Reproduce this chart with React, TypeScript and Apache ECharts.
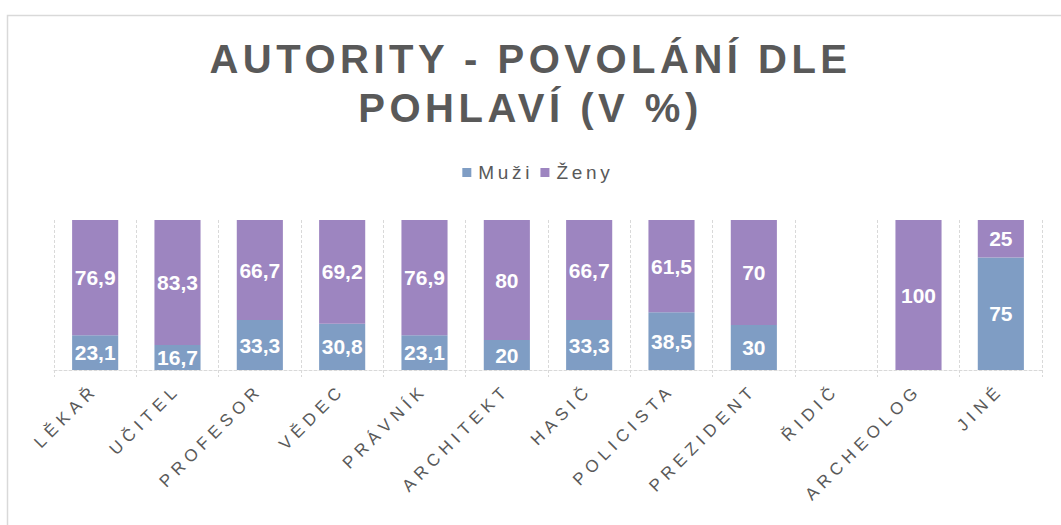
import React, { useEffect, useRef } from "react";
import * as echarts from "echarts";

const categories = [
  "LĚKAŘ",
  "UČITEL",
  "PROFESOR",
  "VĚDEC",
  "PRÁVNÍK",
  "ARCHITEKT",
  "HASIČ",
  "POLICISTA",
  "PREZIDENT",
  "ŘIDIČ",
  "ARCHEOLOG",
  "JINÉ",
];
const muzi = [23.1, 16.7, 33.3, 30.8, 23.1, 20, 33.3, 38.5, 30, null, null, 75];
const zeny = [76.9, 83.3, 66.7, 69.2, 76.9, 80, 66.7, 61.5, 70, null, 100, 25];
const seriesNames = ["Muži", "Ženy"];
const titleText = "AUTORITY - POVOLÁNÍ DLE\nPOHLAVÍ (V %)";

const GRAY = "#595959";
const LINE = "#D9D9D9";
const FONT = "'Liberation Sans', Arial, sans-serif";

export default function App() {
  const ref = useRef<HTMLDivElement>(null);

  useEffect(() => {
    document.body.style.margin = "0";
    const el = ref.current!;
    const chart = echarts.init(el, null, { renderer: "svg" });

    const label = {
      show: true,
      position: "inside",
      color: "#fff",
      fontWeight: "bold",
      fontSize: 21,
      fontFamily: FONT,
      formatter: (p: any) =>
        p.value == null ? "" : String(p.value).replace(".", ","),
    };

    chart.setOption({
      animation: false,
      backgroundColor: "#fff",
      graphic: [
        {
          type: "rect",
          shape: { x: 7.5, y: 15.5, width: 1200, height: 700 },
          style: { fill: "none", stroke: LINE, lineWidth: 1.5 },
          silent: true,
        },
      ],
      title: {
        text: titleText,
        left: "center",
        top: 29,
        textStyle: {
          color: GRAY,
          fontSize: 40,
          lineHeight: 49,
          fontWeight: "bold",
          fontFamily: FONT,
        },
      },
      legend: {
        data: seriesNames,
        top: 158,
        left: "center",
        itemWidth: 9,
        itemHeight: 9,
        itemGap: 22,
        icon: "rect",
        textStyle: { color: GRAY, fontSize: 19, fontFamily: FONT, padding: [0, 0, 0, 2] },
      },
      grid: { left: 54, right: 19, top: 220, bottom: 155 },
      xAxis: {
        type: "category",
        data: categories,
        axisLine: { lineStyle: { color: LINE, type: [3, 2], width: 1 } },
        axisTick: { show: true, length: 7, lineStyle: { color: LINE, type: [3, 2] } },
        splitLine: { show: true, lineStyle: { color: LINE, type: [3, 2], width: 1 } },
        axisLabel: {
          rotate: 45,
          margin: 17,
          color: GRAY,
          fontSize: 17,
          fontFamily: FONT,
          interval: 0,
        },
      },
      yAxis: {
        type: "value",
        min: 0,
        max: 100,
        show: false,
        splitLine: { show: false },
      },
      series: [
        {
          name: seriesNames[0],
          type: "bar",
          stack: "total",
          barWidth: "56%",
          data: muzi,
          itemStyle: { color: "#7F9DC4" },
          label,
        },
        {
          name: seriesNames[1],
          type: "bar",
          stack: "total",
          barWidth: "56%",
          data: zeny,
          itemStyle: { color: "#9D85C0" },
          label,
        },
      ],
    });

    const texts = el.querySelectorAll("text");
    texts.forEach((t) => {
      const s = t.textContent || "";
      let ls = 0;
      if (s.includes("AUTORITY") || s.includes("POHLAV")) ls = 4.5;
      else if (seriesNames.includes(s)) ls = 3.7;
      else if (categories.includes(s)) ls = 5.3;
      if (ls) t.setAttribute("letter-spacing", String(ls));
    });

    return () => chart.dispose();
  }, []);

  return <div ref={ref} style={{ width: 1061, height: 525 }} />;
}
